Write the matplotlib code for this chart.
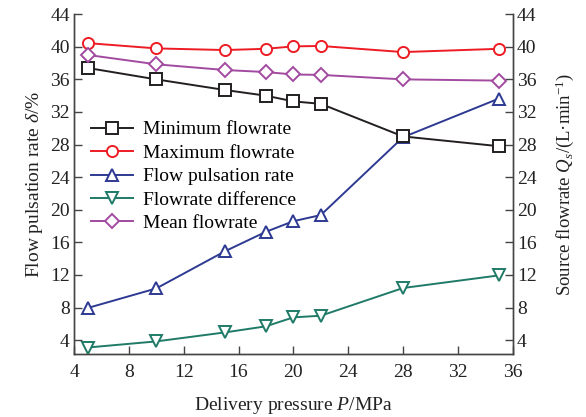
import matplotlib
matplotlib.use("Agg")
import matplotlib.pyplot as plt

plt.rcParams['font.family'] = ['Liberation Serif', 'DejaVu Serif']
plt.rcParams['mathtext.fontset'] = 'custom'
plt.rcParams['mathtext.rm'] = 'Liberation Serif'
plt.rcParams['mathtext.it'] = 'Liberation Serif:italic'

# delivery pressure (MPa)
pressure = [5, 10, 15, 18, 20, 22, 28, 35]

# source flowrate (L/min)
min_flow = [37.4, 36.0, 34.7, 34.0, 33.3, 33.0, 29.0, 27.8]
max_flow = [40.45, 39.8, 39.6, 39.75, 40.05, 40.1, 39.35, 39.75]
mean_flow = [39.0, 37.85, 37.15, 36.9, 36.6, 36.55, 36.0, 35.85]
flow_diff = [3.1, 3.85, 4.95, 5.7, 6.8, 7.0, 10.4, 11.95]

# pulsation rate (%)
pulsation = [7.95, 10.35, 14.9, 17.3, 18.6, 19.35, 28.9, 33.65]

yticks = list(range(4, 45, 4))
xticks = list(range(4, 37, 4))

fig = plt.figure(figsize=(5.86, 4.17), dpi=100)
ax = fig.add_axes([0.1263, 0.151, 0.7486, 0.815])
ax2 = ax.twinx()

mk = dict(markersize=8, markerfacecolor='white', markeredgewidth=1.4, linewidth=1.4)
l1, = ax2.plot(pressure, min_flow, marker='s', color='#231f20', label='Minimum flowrate', **mk)
l2, = ax2.plot(pressure, max_flow, marker='o', color='#ed1c24', label='Maximum flowrate', **mk)
l3, = ax.plot(pressure, pulsation, marker='^', color='#2e3a92', label='Flow pulsation rate',
              **{**mk, 'markersize': 8.5})
l4, = ax2.plot(pressure, flow_diff, marker='v', color='#1f7a68', label='Flowrate difference',
               **{**mk, 'markersize': 8.5})
l5, = ax2.plot(pressure, mean_flow, marker='D', color='#a24aa0', label='Mean flowrate',
               **{**mk, 'markersize': 7.5})

for a in (ax, ax2):
    a.set_xlim(4, 36)
    a.set_ylim(2.3, 44)
    a.set_yticks(yticks)
    a.spines['top'].set_visible(False)
    for s in a.spines.values():
        s.set_color('#444444')
        s.set_linewidth(1.0)
    a.tick_params(direction='in', length=6, width=1.0, color='#444444',
                  labelsize=14, labelcolor='#222222')
ax.set_xticks(xticks)
ax.tick_params(axis='x', pad=7)
ax.tick_params(axis='y', pad=3)
ax2.tick_params(axis='y', pad=3)

ax.set_xlabel(r'Delivery pressure $\mathit{P}$/MPa', fontsize=14, color='#222222', labelpad=10)
ax.set_ylabel(r'Flow pulsation rate $\mathit{\delta}$/%', fontsize=14, color='#222222', labelpad=4)
ax2.set_ylabel(r'Source flowrate $\mathit{Q_s}$/(L·min$^{-1}$)', fontsize=13.5,
               color='#222222', labelpad=12)

ax.legend(handles=[l1, l2, l3, l4, l5], loc='upper left', bbox_to_anchor=(0.02, 0.709),
          frameon=False, fontsize=14, handlelength=2.2, handletextpad=0.5,
          labelspacing=0.3, borderaxespad=0)

fig.savefig('out.png', dpi=100)
